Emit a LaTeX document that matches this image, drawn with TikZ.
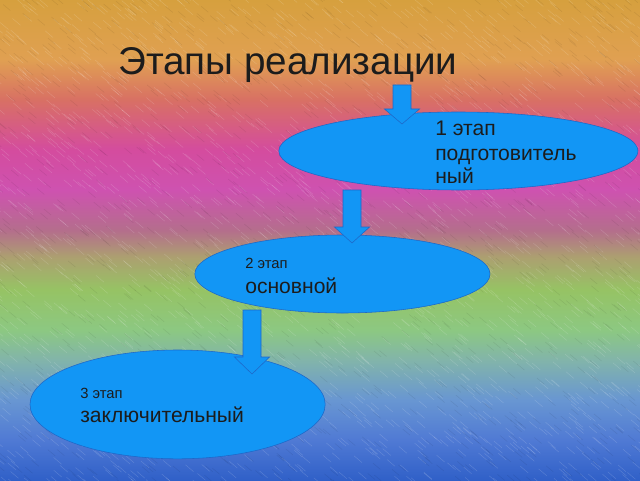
\documentclass[tikz,border=0pt]{standalone}
\usepackage{fontspec}
\setmainfont{Liberation Sans}
\usetikzlibrary{shapes.geometric}
\definecolor{bgdeepblue}{RGB}{48, 96, 200}
\definecolor{bgblue}{RGB}{80, 122, 212}
\definecolor{bgsky}{RGB}{104, 150, 210}
\definecolor{bgteal}{RGB}{130, 180, 170}
\definecolor{bglightgreen}{RGB}{140, 200, 130}
\definecolor{bggreen}{RGB}{150, 195, 100}
\definecolor{bgolive}{RGB}{172, 160, 112}
\definecolor{bgmauve}{RGB}{180, 110, 140}
\definecolor{bgmagenta}{RGB}{206, 82, 176}
\definecolor{bgpink}{RGB}{212, 76, 158}
\definecolor{bgsalmon}{RGB}{216, 112, 100}
\definecolor{bgorange}{RGB}{224, 160, 82}
\definecolor{bggold}{RGB}{214, 160, 62}
\definecolor{stagefill}{RGB}{18, 150, 245}
\definecolor{stageline}{RGB}{30, 104, 200}
\definecolor{titletext}{RGB}{28, 28, 28}
\pgfdeclareverticalshading{rainbowbg}{100bp}{color(0bp)=(bgdeepblue); color(25bp)=(bgdeepblue);
  color(29.2bp)=(bgblue); color(33.3bp)=(bgsky); color(37.5bp)=(bgteal); color(40.6bp)=(bglightgreen);
  color(44.8bp)=(bggreen); color(48.2bp)=(bgolive); color(51bp)=(bgmauve); color(55.2bp)=(bgmagenta);
  color(59.4bp)=(bgpink); color(64.6bp)=(bgsalmon); color(68.8bp)=(bgorange); color(75bp)=(bggold);
  color(100bp)=(bggold)}
\tikzset{
  stage/.style={ellipse, fill=stagefill, draw=stageline, thin, inner sep=0pt},
  stagearrow/.style={fill=stagefill, draw=stageline, thin},
  bigtext/.style={anchor=base west, inner sep=0pt, font=\fontsize{15}{18}\selectfont, text=titletext},
  smalltext/.style={anchor=base west, inner sep=0pt, font=\fontsize{10.5}{12}\selectfont, text=titletext}
}
% block arrow: centre x, top, head base, tip
\newcommand{\downarrowblock}[4]{%
  \filldraw[stagearrow] (#1-0.225,#2) -- (#1+0.225,#2) -- (#1+0.225,#3) -- (#1+0.44,#3)
    -- (#1,#4) -- (#1-0.44,#3) -- (#1-0.225,#3) -- cycle;}
\begin{document}
\begin{tikzpicture}
            \useasboundingbox (0,0) rectangle (16,12);
            \shade[shading=rainbowbg] (0,0) rectangle (16,12);
            % texture of the background
            \begin{scope}
              \clip (0,0) rectangle (16,12);
              \pgfmathsetseed{42}
              \foreach \i in {1,...,2200}
                \draw[white, opacity=0.16, line width=0.35pt] (16.4*rnd-0.2, 12.4*rnd) -- ++(0.2,-0.17);
              \foreach \i in {1,...,1200}
                \draw[black, opacity=0.08, line width=0.35pt] (16.4*rnd-0.2, 12.4*rnd) -- ++(0.18,-0.15);
            \end{scope}
            \node[anchor=base west, inner sep=0pt, font=\fontsize{27.5}{33}\selectfont, text=titletext] (title) at (2.95,10.125) {Этапы реализации};
            % stages
            \node[stage, minimum width=8.98cm, minimum height=1.95cm] (st1) at (11.46,8.225) {};
            \node[stage, minimum width=7.38cm, minimum height=1.95cm] (st2) at (8.56,5.15) {};
            \node[stage, minimum width=7.38cm, minimum height=2.72cm] (st3) at (4.44,1.89) {};
            \downarrowblock{10.05}{9.875}{9.275}{8.9}
            \downarrowblock{8.80}{7.25}{6.325}{5.925}
            \downarrowblock{6.30}{4.25}{3.075}{2.65}
            \node[bigtext]   (st1a) at (10.875,8.625) {1 этап};
            \node[bigtext]   (st1b) at (10.875,8.000) {подготовитель};
            \node[bigtext]   (st1c) at (10.875,7.425) {ный};
            \node[smalltext] (st2a) at (6.125,5.30) {2 этап};
            \node[bigtext]   (st2b) at (6.125,4.675) {основной};
            \node[smalltext] (st3a) at (2.00,2.05) {3 этап};
            \node[bigtext]   (st3b) at (2.00,1.45) {заключительный};
\end{tikzpicture}
\end{document}
